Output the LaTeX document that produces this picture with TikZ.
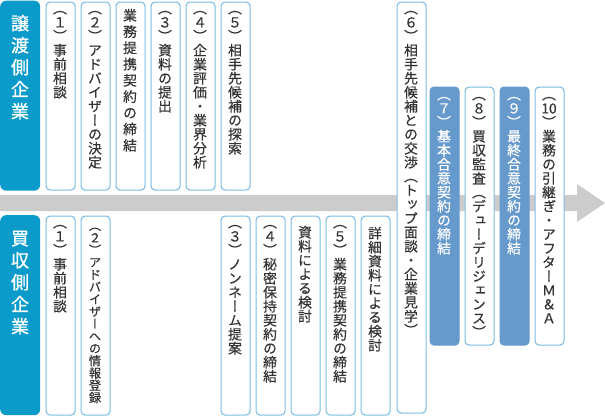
\documentclass[tikz,border=0pt]{standalone}
\usepackage{fontspec}
\newfontfamily\jp[RawFeature={+vert}, FakeBold=0.4]{Noto Sans CJK JP}
\newfontfamily\jpt[RawFeature={+vert}, FakeBold=0.9]{Noto Sans CJK JP}
\definecolor{tblue}{HTML}{0A9BCB}
\definecolor{bline}{HTML}{7BBDE5}
\definecolor{fblue}{HTML}{6699CC}
\definecolor{bandc}{HTML}{CCCCCC}
\definecolor{txtc}{HTML}{333333}
\makeatletter
\newdimen\vt@p
\newcommand\vt[2][14pt]{\vbox{\offinterlineskip\vt@p=#1\relax
  \@tfor\vt@c:=#2\do{\hbox to 1.3em{\hss\vrule width 0pt height \dimexpr 0.5\vt@p+0.38em\relax depth \dimexpr 0.5\vt@p-0.38em\relax\vt@c\hss}}}}
\makeatother
\tikzset{
  wbox/.style={draw=bline, fill=white, line width=1.1pt, rounded corners=4pt, minimum width=29pt, inner sep=0pt, anchor=north west},
  fbox/.style={wbox, fill=fblue, draw=fblue},
  tbox/.style={fill=tblue, rounded corners=6pt, minimum width=40pt, inner sep=0pt, anchor=north west},
  txt/.style={inner sep=0pt, anchor=north, text=txtc, font=\jp\fontsize{13.8pt}{14pt}\selectfont},
  stxt/.style={txt, font=\jp\fontsize{12.2pt}{12.3pt}\selectfont},
  wtxt/.style={txt, text=white},
  ttl/.style={inner sep=0pt, anchor=north, text=white, font=\jpt\fontsize{18pt}{22pt}\selectfont},
}
\begin{document}
\begin{tikzpicture}[x=1pt,y=-1pt]
\useasboundingbox (0,0) rectangle (605,416);
% arrow band
\fill[bandc] (0,195) -- (577,195) -- (577,184) -- (605,203) -- (577,222) -- (577,211) -- (0,211) -- cycle;
% seller
\node[tbox, minimum height=190pt] (a0) at (0,0.5) {};
\node[ttl] (ta0) at (20,12) {\vt[22pt]{譲渡側企業}};
\node[wbox, minimum height=188pt] (a1) at (45.5,1.5) {};
\node[wbox, minimum height=188pt] (a2) at (80.5,1.5) {};
\node[wbox, minimum height=188pt] (a3b) at (115.5,1.5) {};
\node[wbox, minimum height=188pt] (a3) at (150.5,1.5) {};
\node[wbox, minimum height=188pt] (a4) at (185.5,1.5) {};
\node[wbox, minimum height=188pt] (a5) at (220.5,1.5) {};
\node[wbox, minimum height=411pt] (a6) at (396.5,1.5) {};
\node[fbox, minimum height=258pt] (a7) at (429.5,86.5) {};
\node[wbox, minimum height=258pt] (a8) at (464.5,86.5) {};
\node[fbox, minimum height=258pt] (a9) at (499.5,86.5) {};
\node[wbox, minimum height=258pt] (a10) at (534.5,86.5) {};
\node[txt] (ta1) at (60,1) {\vt{︵１︶事前相談}};
\node[txt] (ta2) at (95,1) {\vt{︵２︶アドバイザーの決定}};
\node[txt] (ta3b) at (130,7) {\vt[16.25pt]{業務提携契約の締結}};
\node[txt] (ta3) at (165,1) {\vt{︵３︶資料の提出}};
\node[txt] (ta4) at (200,1) {\vt{︵４︶企業評価・業界分析}};
\node[txt] (ta5) at (235,1) {\vt{︵５︶相手先候補の探索}};
\node[txt] (ta6) at (411,1) {\vt{︵６︶相手先候補との交渉︵トップ面談・企業見学︶}};
\node[wtxt] (ta7) at (444,87) {\vt{︵７︶基本合意契約の締結}};
\node[txt] (ta8) at (479,87) {\vt{︵８︶買収監査︵デューデリジェンス︶}};
\node[wtxt] (ta9) at (514,87) {\vt{︵９︶最終合意契約の締結}};
\node[txt] (ta10) at (549,87) {\vt{︵{10}︶業務の引継ぎ・アフターＭ＆Ａ}};
% buyer
\node[tbox, minimum height=200pt] (b0) at (0,215) {};
\node[ttl] (tb0) at (20,227) {\vt[22pt]{買収側企業}};
\node[wbox, minimum height=199pt] (b1) at (45.5,215.5) {};
\node[wbox, minimum height=199pt] (b2) at (80.5,215.5) {};
\node[wbox, minimum height=199pt] (b3) at (220.5,215.5) {};
\node[wbox, minimum height=199pt] (b4) at (255.5,215.5) {};
\node[wbox, minimum height=199pt] (b4b) at (290.5,215.5) {};
\node[wbox, minimum height=199pt] (b5) at (325.5,215.5) {};
\node[wbox, minimum height=199pt] (b5b) at (360.5,215.5) {};
\node[txt] (tb1) at (60,215) {\vt{︵１︶事前相談}};
\node[stxt] (tb2) at (95,219) {\vt[12.3pt]{︵２︶アドバイザーへの情報登録}};
\node[txt] (tb3) at (235,215) {\vt{︵３︶ノンネーム提案}};
\node[txt] (tb4) at (270,215) {\vt{︵４︶秘密保持契約の締結}};
\node[txt] (tb4b) at (305,225) {\vt{資料による検討}};
\node[txt] (tb5) at (340,215) {\vt{︵５︶業務提携契約の締結}};
\node[txt] (tb5b) at (375,226) {\vt{詳細資料による検討}};
\end{tikzpicture}
\end{document}
